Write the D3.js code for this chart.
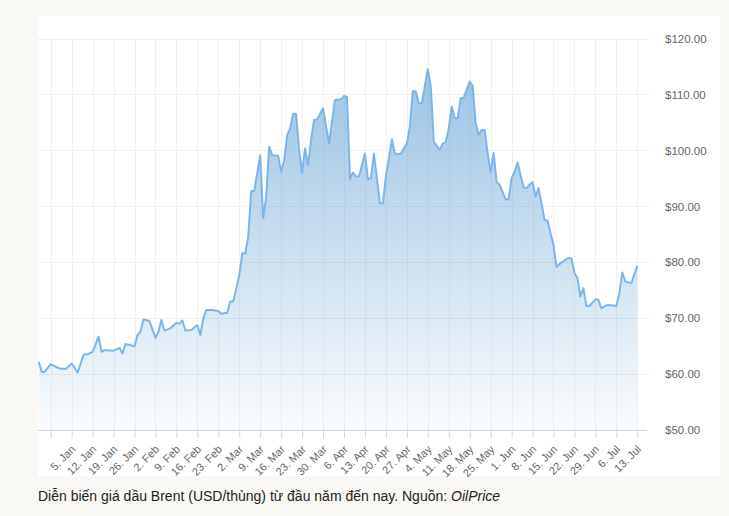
<!DOCTYPE html>
<html><head><meta charset="utf-8">
<script src="https://cdn.jsdelivr.net/npm/d3@7"></script>
<style>
body{margin:0;background:#f9f8f5;}
svg{display:block;font-family:"Liberation Sans",Arial,Helvetica,sans-serif;}
</style></head><body>
<svg id="c" width="729" height="516"></svg>
<script>
// Brent price readings (USD/barrel)
const dates = ["2021-12-25","2021-12-26","2021-12-27","2021-12-29","2021-12-30","2022-01-01","2022-01-03","2022-01-05","2022-01-07","2022-01-09","2022-01-10","2022-01-12","2022-01-14","2022-01-15","2022-01-16","2022-01-19","2022-01-21","2022-01-22","2022-01-23",
"2022-01-26","2022-01-27","2022-01-28","2022-01-29","2022-01-31","2022-02-02","2022-02-03","2022-02-04","2022-02-05","2022-02-07","2022-02-09","2022-02-10","2022-02-11","2022-02-12","2022-02-14","2022-02-16","2022-02-17","2022-02-18","2022-02-19","2022-02-21","2022-02-23",
"2022-02-24","2022-02-26","2022-02-27","2022-02-28","2022-03-02","2022-03-03","2022-03-04","2022-03-05","2022-03-06","2022-03-07","2022-03-09","2022-03-10","2022-03-11","2022-03-12","2022-03-13","2022-03-15","2022-03-16","2022-03-17","2022-03-18","2022-03-19","2022-03-20","2022-03-21","2022-03-22","2022-03-23","2022-03-24","2022-03-25","2022-03-26","2022-03-27",
"2022-03-28","2022-03-30","2022-04-01","2022-04-03","2022-04-05","2022-04-06","2022-04-07","2022-04-08","2022-04-09","2022-04-10","2022-04-11","2022-04-13","2022-04-14","2022-04-15","2022-04-16","2022-04-18","2022-04-19","2022-04-20","2022-04-22","2022-04-23","2022-04-25","2022-04-27",
"2022-04-28","2022-04-29","2022-04-30","2022-05-01","2022-05-02","2022-05-04","2022-05-05","2022-05-06","2022-05-08","2022-05-09","2022-05-10","2022-05-11","2022-05-12","2022-05-13","2022-05-14","2022-05-15","2022-05-16","2022-05-18","2022-05-19","2022-05-20","2022-05-21","2022-05-22","2022-05-23","2022-05-24","2022-05-25","2022-05-26","2022-05-27","2022-05-28","2022-05-30",
"2022-05-31","2022-06-01","2022-06-02","2022-06-03","2022-06-05","2022-06-06","2022-06-07","2022-06-08","2022-06-09","2022-06-10","2022-06-11","2022-06-12","2022-06-13","2022-06-14","2022-06-15","2022-06-16","2022-06-17","2022-06-18","2022-06-20","2022-06-21","2022-06-22","2022-06-23","2022-06-24","2022-06-25","2022-06-26","2022-06-27","2022-06-29",
"2022-06-30","2022-07-01","2022-07-03","2022-07-05","2022-07-06","2022-07-07","2022-07-08","2022-07-09","2022-07-11","2022-07-13"];
const prices = [62.2,60.4,60.4,61.8,61.5,61.0,60.9,61.9,60.3,63.5,63.5,64.0,66.7,64.0,64.3,64.2,64.7,63.7,65.4,
65.0,67.0,67.6,69.8,69.5,66.5,67.6,69.7,67.8,68.2,69.2,69.0,69.6,67.8,67.9,68.8,67.0,70.0,71.5,71.5,71.3,
70.8,71.0,73.0,73.0,77.7,81.6,81.6,84.6,92.8,92.8,99.2,87.9,91.8,100.7,99.2,99.1,96.2,98.3,102.8,104.0,106.6,106.6,100.1,96.0,100.4,97.4,101.9,105.5,
105.6,107.6,101.3,109.1,109.2,109.8,109.6,94.9,96.1,95.4,95.4,99.5,94.9,95.1,99.5,90.6,90.6,95.4,102.0,99.5,99.4,101.3,
104.3,110.7,110.6,108.5,108.5,114.6,111.5,101.6,100.2,101.3,101.5,104.0,107.9,105.8,105.8,109.4,109.5,112.4,111.6,104.9,102.8,103.7,103.7,99.5,96.2,99.6,94.4,93.9,91.3,
91.3,95.1,96.2,97.9,93.4,93.3,93.9,94.4,91.8,93.3,90.6,87.6,87.5,85.2,83.1,79.2,79.7,80.1,80.8,80.7,78.1,77.2,73.9,75.4,72.2,72.2,73.4,
73.3,71.8,72.4,72.3,72.2,74.5,78.2,76.6,76.3,79.4];
const yTicks = [50,60,70,80,90,100,110,120];
const xTickLabels = ["29. Dec 2021","5. Jan 2022","12. Jan 2022","19. Jan 2022","26. Jan 2022","2. Feb 2022","9. Feb 2022","16. Feb 2022","23. Feb 2022","2. Mar 2022","9. Mar 2022","16. Mar 2022","23. Mar 2022","30. Mar 2022","6. Apr 2022","13. Apr 2022","20. Apr 2022","27. Apr 2022","4. May 2022","11. May 2022","18. May 2022","25. May 2022","1. Jun 2022","8. Jun 2022","15. Jun 2022","22. Jun 2022","29. Jun 2022","6. Jul 2022","13. Jul 2022"];
const captionText = "Diễn biến giá dầu Brent (USD/thùng) từ đầu năm đến nay. Nguồn: ";
const sourceText = "OilPrice";

const parseDay = d3.timeParse("%Y-%m-%d");
const parseTick = d3.timeParse("%d. %b %Y");
const data = dates.map((d,i)=>({date:parseDay(d), v:prices[i]}));
const tickDates = xTickLabels.map(t=>parseTick(t));

const svg = d3.select("#c");
const panelL = 38, plotL = 38, plotR = 649, plotT = 39, plotB = 430;

svg.append("rect").attr("x",panelL).attr("y",16).attr("width",682).attr("height",460).attr("fill","#ffffff");

const x = d3.scaleTime().domain([tickDates[0], tickDates[tickDates.length-1]]).range([50.7, 637.3]);
const y = d3.scaleLinear().domain([50,120]).range([plotB, plotT]);

// horizontal grid
svg.append("g").selectAll("line").data(yTicks.filter(t=>t>50)).join("line")
  .attr("x1",plotL).attr("x2",plotR).attr("y1",d=>y(d)).attr("y2",d=>y(d))
  .attr("stroke","#efefef").attr("stroke-width",1).attr("shape-rendering","crispEdges");
// vertical grid
svg.append("g").selectAll("line").data(tickDates).join("line")
  .attr("x1",d=>Math.round(x(d))+0.5).attr("x2",d=>Math.round(x(d))+0.5).attr("y1",plotT).attr("y2",plotB)
  .attr("stroke","#f1f1f1").attr("stroke-width",1);

// gradient
const defs = svg.append("defs");
const grad = defs.append("linearGradient").attr("id","g1").attr("gradientUnits","userSpaceOnUse")
  .attr("x1",0).attr("x2",0).attr("y1",y(d3.max(prices))).attr("y2",plotB);
grad.append("stop").attr("offset",0).attr("stop-color","#5f9ed3").attr("stop-opacity",0.62);
grad.append("stop").attr("offset",1).attr("stop-color","#5f9ed3").attr("stop-opacity",0.03);

const area = d3.area().x(d=>x(d.date)).y0(plotB).y1(d=>y(d.v));
const line = d3.line().x(d=>x(d.date)).y(d=>y(d.v));
svg.append("path").datum(data).attr("d",area).attr("fill","url(#g1)");
svg.append("path").datum(data).attr("d",line).attr("fill","none").attr("stroke","#7cb5ec").attr("stroke-width",2).attr("stroke-linejoin","round");

// x axis
const xAxis = d3.axisBottom(x).tickValues(tickDates).tickFormat(d3.timeFormat("%-d. %b")).tickSize(8).tickSizeOuter(0);
const gx = svg.append("g").attr("transform",`translate(0,${plotB})`).call(xAxis);
gx.select(".domain").remove();
gx.append("line").attr("x1",plotL).attr("x2",plotR-2).attr("y1",0.5).attr("y2",0.5).attr("stroke","#ccd6eb");
gx.selectAll(".tick line").attr("stroke","#ccd6eb");
gx.selectAll(".tick text").attr("fill","#666666").style("font-size","11px")
  .attr("text-anchor","end").attr("dy",null).attr("y",null)
  .attr("transform","translate(4,20) rotate(-45)");
// hide labels that would overflow the chart container on the left
gx.selectAll(".tick text").each(function(){
  const b = this.getBoundingClientRect();
  if (b.left < panelL) d3.select(this).remove();
});

// y axis labels
const gy = svg.append("g");
gy.selectAll("text").data(yTicks).join("text")
  .attr("x",665).attr("y",d=>y(d)+4).attr("fill","#666666").style("font-size","11.5px")
  .text(d=>"$"+d3.format(".2f")(d));

// caption
const cap = svg.append("text").attr("x",38).attr("y",501).attr("fill","#222").style("font-size","14px");
cap.append("tspan").text(captionText);
cap.append("tspan").style("font-style","italic").text(sourceText);
</script>
</body></html>
